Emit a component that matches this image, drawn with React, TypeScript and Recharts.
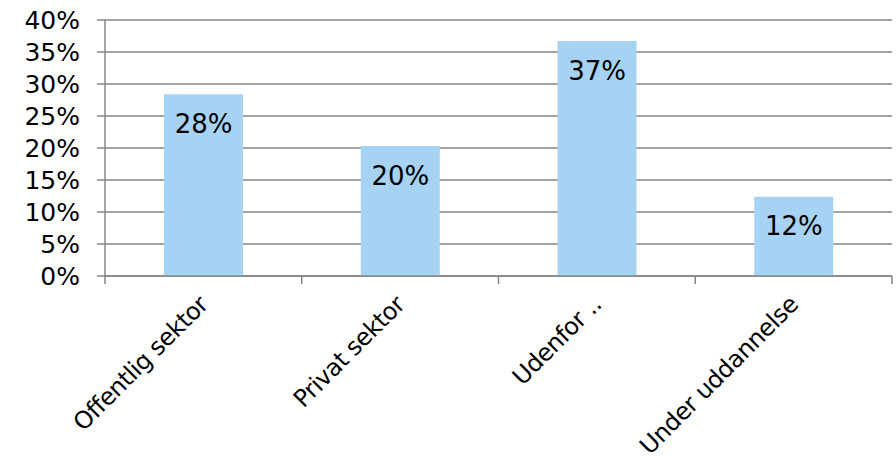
import React from 'react';
import { BarChart, Bar, XAxis, YAxis, CartesianGrid, LabelList } from 'recharts';

const categories = ['Offentlig sektor', 'Privat sektor', 'Udenfor ..', 'Under uddannelse'];
const shares = [0.284, 0.203, 0.367, 0.124];
const yTicks = [0, 0.05, 0.1, 0.15, 0.2, 0.25, 0.3, 0.35, 0.4];

const data = categories.map((name, i) => ({ name, value: shares[i] }));

const FONT = '"DejaVu Sans", Verdana, sans-serif';
const GREY = '#878787';
const X_TICK_MARGIN = 30;
const X_TICK_LEN = 8;
const pct = (v: number) => `${Math.round(v * 100)}%`;

const XTick = (props: any) => {
  const { x, y, payload, index, width, visibleTicksCount } = props;
  const count = visibleTicksCount || categories.length;
  const band = width / count;
  const axisY = y - X_TICK_MARGIN;
  const left = x - band / 2;
  const right = x + band / 2;
  return (
    <g>
      <line x1={left} x2={left} y1={axisY} y2={axisY + X_TICK_LEN} stroke={GREY} strokeWidth={1.5} />
      {index === count - 1 && (
        <line x1={right} x2={right} y1={axisY} y2={axisY + X_TICK_LEN} stroke={GREY} strokeWidth={1.5} />
      )}
      <g transform={`translate(${x + 6},${y})`}>
        <text transform="rotate(-45)" textAnchor="end" fontSize={24} letterSpacing={-0.5} fontFamily={FONT} fill="#000">
          {payload.value}
        </text>
      </g>
    </g>
  );
};

export default function App() {
  return (
    <div style={{ position: 'absolute', left: 0, top: 0, width: 896, height: 464, background: '#fff' }}>
      <BarChart width={896} height={464} data={data} margin={{ top: 20, right: 4, left: 0, bottom: 0 }} barCategoryGap="30%">
        <CartesianGrid horizontal vertical={false} stroke={GREY} strokeWidth={1.5} />
        <XAxis
          dataKey="name"
          type="category"
          height={188}
          axisLine={{ stroke: GREY, strokeWidth: 1.5 }}
          tickLine={false}
          tickSize={0}
          tickMargin={X_TICK_MARGIN}
          interval={0}
          tick={<XTick />}
        />
        <YAxis
          width={105}
          domain={[0, 0.4]}
          ticks={yTicks}
          tickFormatter={pct}
          interval={0}
          tickSize={8}
          tickMargin={17}
          tick={{ fontSize: 25, fontFamily: FONT, fill: '#000' }}
          tickLine={{ stroke: GREY, strokeWidth: 1.5 }}
          axisLine={{ stroke: GREY, strokeWidth: 1.5 }}
        />
        <Bar dataKey="value" fill="#A6D2F3" isAnimationActive={false}>
          <LabelList dataKey="value" position="insideTop" offset={20} formatter={(v: any) => pct(Number(v))} style={{ fontSize: 26, fontFamily: FONT, fill: '#000' }} />
        </Bar>
      </BarChart>
    </div>
  );
}
